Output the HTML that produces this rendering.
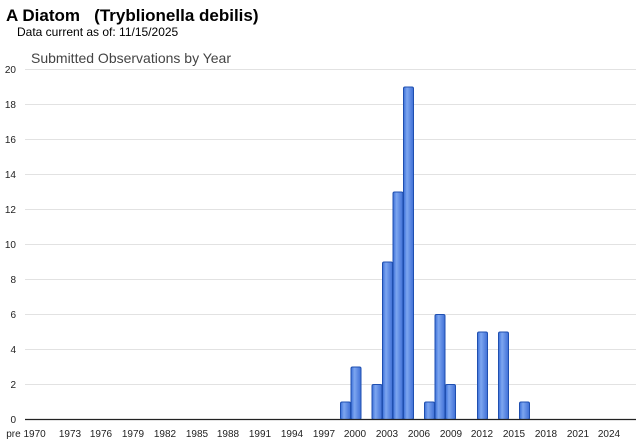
<!DOCTYPE html>
<html><head><style>
body{margin:0;width:640px;height:442px;background:#fff;overflow:hidden;font-family:"Liberation Sans",Arial,sans-serif}
</style></head><body>
<svg width="640" height="442" xmlns="http://www.w3.org/2000/svg" font-family="Liberation Sans,Arial,sans-serif">
<defs><linearGradient id="g" x1="0" x2="1"><stop offset="0" stop-color="#3a6fd8"/><stop offset="0.35" stop-color="#7da6f0"/><stop offset="1" stop-color="#3f6fd6"/></linearGradient></defs>
<text x="6" y="21" font-size="17" font-weight="bold" fill="#000">A Diatom&#160;&#160;&#160;(Tryblionella debilis)</text>
<text x="17" y="36" font-size="12" fill="#000">Data current as of: 11/15/2025</text>
<text x="31" y="63" font-size="14" fill="#444">Submitted Observations by Year</text>
<g stroke="#e2e2e2" stroke-width="1">
<line x1="25" x2="636" y1="69.5" y2="69.5"/><line x1="25" x2="636" y1="104.5" y2="104.5"/><line x1="25" x2="636" y1="139.5" y2="139.5"/><line x1="25" x2="636" y1="174.5" y2="174.5"/><line x1="25" x2="636" y1="209.5" y2="209.5"/><line x1="25" x2="636" y1="244.5" y2="244.5"/><line x1="25" x2="636" y1="279.5" y2="279.5"/><line x1="25" x2="636" y1="314.5" y2="314.5"/><line x1="25" x2="636" y1="349.5" y2="349.5"/><line x1="25" x2="636" y1="384.5" y2="384.5"/>
</g>
<g font-size="10" fill="#222" text-anchor="end">
<text x="16" y="73">20</text><text x="16" y="108">18</text><text x="16" y="143">16</text><text x="16" y="178">14</text><text x="16" y="213">12</text><text x="16" y="248">10</text><text x="16" y="283">8</text><text x="16" y="318">6</text><text x="16" y="353">4</text><text x="16" y="388">2</text><text x="16" y="423">0</text>
</g>
<g fill="url(#g)" stroke="#1f4fb0" stroke-width="1">
<rect x="340.5" y="402" width="10" height="17.5" rx="1.5"/>
<rect x="351" y="367" width="10" height="52.5" rx="1.5"/>
<rect x="372" y="384.5" width="10" height="35" rx="1.5"/>
<rect x="382.5" y="262" width="10" height="157.5" rx="1.5"/>
<rect x="393" y="192" width="10" height="227.5" rx="1.5"/>
<rect x="403.5" y="87" width="10" height="332.5" rx="1.5"/>
<rect x="424.5" y="402" width="10" height="17.5" rx="1.5"/>
<rect x="435" y="314.5" width="10" height="105" rx="1.5"/>
<rect x="445.5" y="384.5" width="10" height="35" rx="1.5"/>
<rect x="477.5" y="332" width="10" height="87.5" rx="1.5"/>
<rect x="498.5" y="332" width="10" height="87.5" rx="1.5"/>
<rect x="519.5" y="402" width="10" height="17.5" rx="1.5"/>
</g>
<line x1="25" x2="636" y1="419.5" y2="419.5" stroke="#222" stroke-width="1.2"/>
<g font-size="10" fill="#222" text-anchor="middle">
<text x="26" y="437">pre 1970</text><text x="70" y="437">1973</text><text x="101" y="437">1976</text><text x="133" y="437">1979</text><text x="165" y="437">1982</text><text x="197" y="437">1985</text><text x="228" y="437">1988</text><text x="260" y="437">1991</text><text x="292" y="437">1994</text><text x="324" y="437">1997</text><text x="355" y="437">2000</text><text x="387" y="437">2003</text><text x="419" y="437">2006</text><text x="451" y="437">2009</text><text x="482" y="437">2012</text><text x="514" y="437">2015</text><text x="546" y="437">2018</text><text x="578" y="437">2021</text><text x="609" y="437">2024</text>
</g>
</svg>
</body></html>
